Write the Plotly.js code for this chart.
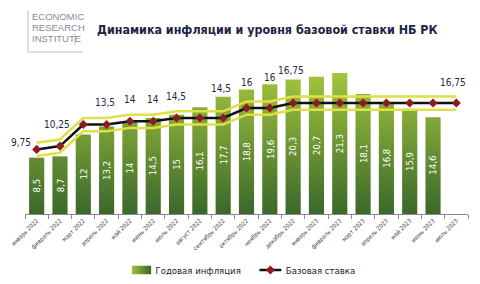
<!DOCTYPE html>
<html>
<head>
<meta charset="utf-8">
<script src="https://cdn.plot.ly/plotly-3.0.1.min.js"></script>
<style>
  html, body { margin: 0; padding: 0; background: #ffffff; }
  #chart { width: 480px; height: 284px; }
</style>
</head>
<body>
<div id="chart"></div>
<script>
// ---- data ----
const categories = ['январь 2022', 'февраль 2022', 'март 2022', 'апрель 2022', 'май 2022', 'июнь 2022',
  'июль 2022', 'август 2022', 'сентябрь 2022', 'октябрь 2022', 'ноябрь 2022', 'декабрь 2022',
  'январь 2023', 'февраль 2023', 'март 2023', 'апрель 2023', 'май 2023', 'июнь 2023', 'июль 2023'];
const inflation = [8.5, 8.7, 12, 13.2, 14, 14.5, 15, 16.1, 17.7, 18.8, 19.6, 20.3, 20.7, 21.3, 18.1, 16.8, 15.9, 14.6, null];
const baseRate = [9.75, 10.25, 13.5, 13.5, 14, 14, 14.5, 14.5, 14.5, 16, 16, 16.75, 16.75, 16.75, 16.75, 16.75, 16.75, 16.75, 16.75];
const rateLabelIdx = [0, 1, 3, 4, 5, 6, 8, 9, 10, 11, 18];
const seriesNames = ['Годовая инфляция', 'Базовая ставка'];
const titleText = 'Динамика инфляции и уровня базовой ставки НБ РК';
const logoLines = ['ECONOMIC', 'RESEARCH', 'INSTITUTE'];

// ---- layout helpers (pixel -> paper) ----
const M = { l: 25, r: 12, t: 55, b: 70 };
const PW = 480 - M.l - M.r, PH = 284 - M.t - M.b;
const px = v => (v - M.l) / PW;
const py = v => (284 - M.b - v) / PH;
const fmt = v => String(v).replace('.', ',');
const NARROW = '"Liberation Sans Narrow", "DejaVu Sans Condensed", "Arial Narrow", sans-serif';

// label offsets (pixels) for rate labels, same order as rateLabelIdx
const labelShiftY = [7, 22, 22, 22, 22, 21, 29, 26, 31, 33, 21];
const labelShiftX = [-16, -3, -2, 0, 0, -1, -2, 0, 0, -2, -3];
const bandOffset = 1.0;

const traces = [
  {
    type: 'bar', name: seriesNames[0], x: categories, y: inflation,
    marker: { color: '#5e8c32', line: { width: 0 } },
    hoverinfo: 'skip'
  },
  {
    type: 'scatter', mode: 'lines', x: categories, y: baseRate.map(v => v + bandOffset),
    line: { color: '#e0e046', width: 2.5 }, showlegend: false, hoverinfo: 'skip'
  },
  {
    type: 'scatter', mode: 'lines', x: categories, y: baseRate.map(v => v - bandOffset),
    line: { color: '#e0e046', width: 2.5 }, showlegend: false, hoverinfo: 'skip'
  },
  {
    type: 'scatter', mode: 'lines+markers', name: seriesNames[1], x: categories, y: baseRate,
    line: { color: '#111111', width: 2.5 },
    marker: { symbol: 'diamond', size: 7, color: '#8e1b1f' },
    hoverinfo: 'skip'
  }
];

const annotations = rateLabelIdx.map((i, k) => ({
  x: categories[i], y: baseRate[i], xref: 'x', yref: 'y',
  text: fmt(baseRate[i]), showarrow: false,
  xanchor: 'center', yanchor: 'middle',
  xshift: labelShiftX[k], yshift: labelShiftY[k],
  font: { family: NARROW, size: 10, color: '#1e2a48' }
}));

// value labels inside bars (centered vertically)
inflation.forEach((v, i) => {
  if (v == null) return;
  annotations.push({
    x: categories[i], y: v / 2, xref: 'x', yref: 'y',
    text: fmt(v), showarrow: false, textangle: -90,
    xanchor: 'center', yanchor: 'middle',
    font: { family: NARROW, size: 9.5, color: '#ffffff' }
  });
});

logoLines.forEach((t, k) => {
  annotations.push({
    xref: 'paper', yref: 'paper', x: px(30), y: py(16 + k * 11.3),
    xanchor: 'left', yanchor: 'middle', showarrow: false, text: t,
    font: { family: '"Liberation Sans", Arial, sans-serif', size: 9.5, color: '#858c98' }
  });
});

const shapes = [
  { type: 'line', xref: 'paper', yref: 'paper', x0: px(28), x1: px(28), y0: py(10), y1: py(52), line: { color: '#b8bcc4', width: 1 } },
  { type: 'line', xref: 'paper', yref: 'paper', x0: px(28), x1: px(83), y0: py(52), y1: py(52), line: { color: '#b8bcc4', width: 1 } },
  { type: 'line', xref: 'paper', yref: 'paper', x0: px(75), x1: px(75), y0: py(34), y1: py(45), line: { color: '#b8bcc4', width: 1 } }
];

const layout = {
  width: 480, height: 284,
  margin: Object.assign({ autoexpand: false }, M),
  paper_bgcolor: '#ffffff', plot_bgcolor: '#ffffff',
  showlegend: true,
  bargap: 0.35,
  title: {
    text: '<b>' + titleText + '</b>',
    xref: 'container', yref: 'container', x: 97 / 480, y: 1 - 30 / 284,
    xanchor: 'left', yanchor: 'middle',
    font: { family: NARROW, size: 12.4, color: '#1c2542' }
  },
  xaxis: {
    type: 'category', range: [-0.5, 18.5], tickson: 'boundaries',
    ticks: 'outside', ticklen: 4, tickcolor: '#8a8a8a', tickwidth: 1,
    showline: true, linecolor: '#8a8a8a', linewidth: 1,
    showgrid: false, zeroline: false, tickangle: -45, automargin: false,
    tickfont: { family: NARROW, size: 6, color: '#3a3a3a' }
  },
  yaxis: { range: [0, 24], visible: false, showgrid: false, zeroline: false },
  legend: {
    orientation: 'h', xref: 'container', yref: 'container',
    x: 238 / 480, xanchor: 'center', y: 1 - 270 / 284, yanchor: 'middle',
    font: { family: NARROW, size: 9.5, color: '#222222' },
    itemwidth: 30, bgcolor: 'rgba(0,0,0,0)'
  },
  annotations: annotations,
  shapes: shapes
};

const gd = document.getElementById('chart');
Plotly.newPlot(gd, traces, layout, { staticPlot: true, displayModeBar: false }).then(() => {
  const NS = 'http://www.w3.org/2000/svg';
  const svg = gd.querySelector('.main-svg');
  let defs = svg.querySelector('defs');
  if (!defs) { defs = document.createElementNS(NS, 'defs'); svg.insertBefore(defs, svg.firstChild); }
  const mkGrad = (id, attrs, stops) => {
    const g = document.createElementNS(NS, 'linearGradient');
    g.setAttribute('id', id);
    Object.keys(attrs).forEach(k => g.setAttribute(k, attrs[k]));
    stops.forEach(([o, c]) => {
      const s = document.createElementNS(NS, 'stop');
      s.setAttribute('offset', o); s.setAttribute('stop-color', c);
      g.appendChild(s);
    });
    defs.appendChild(g);
  };
  mkGrad('barGrad', { gradientUnits: 'userSpaceOnUse', x1: 0, y1: 0, x2: 0, y2: PH },
    [['0', '#b2d244'], ['0.12', '#a2c43c'], ['1', '#3a682b']]);
  mkGrad('legGrad', { x1: 0, y1: 0, x2: 1, y2: 0 }, [['0', '#9cc23e'], ['1', '#3a682b']]);
  gd.querySelectorAll('.barlayer .point path').forEach(p => { p.style.fill = 'url(#barGrad)'; });
  const legTraces = gd.querySelectorAll('.legend .traces');
  if (legTraces.length) {
    legTraces[0].querySelectorAll('.legendpoints path').forEach(p => {
      const orig = p.getAttribute('transform') || '';
      p.style.fill = 'url(#legGrad)';
      p.setAttribute('transform', orig + ' translate(6,0) scale(1.6,0.7)');
    });
  }
  if (legTraces.length > 1) {
    legTraces[1].querySelectorAll('.legendlines path').forEach(p => {
      const orig = p.getAttribute('transform') || '';
      p.setAttribute('transform', orig + ' translate(10,0) scale(0.73,1)');
    });
    legTraces[1].querySelectorAll('.legendpoints path').forEach(p => {
      const orig = p.getAttribute('transform') || '';
      p.setAttribute('transform', 'translate(4.6,0) ' + orig);
    });
  }
});
</script>
</body>
</html>
